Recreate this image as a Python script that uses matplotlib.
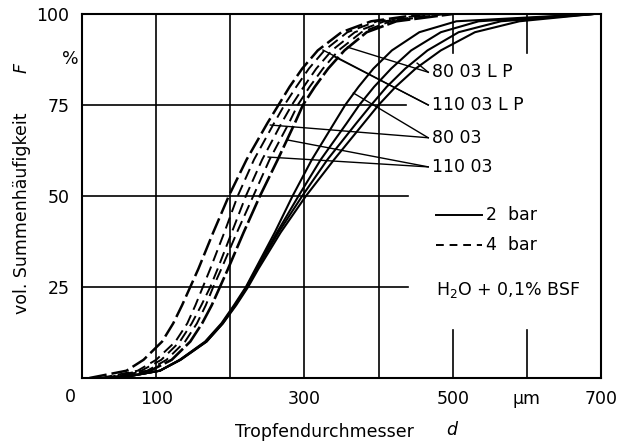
import matplotlib.pyplot as plt

F = [0, 2, 5, 10, 15, 20, 25, 30, 40, 50, 60, 70, 75, 80, 85, 90, 95, 98, 100]

# 4 bar (gestrichelt), linke Kurvenschar
d_4bar_a = [10, 60, 83, 108, 123, 135, 146, 157, 177, 198, 222, 250, 265, 280, 297, 318, 350, 390, 460]
d_4bar_b = [25, 75, 100, 126, 142, 153, 163, 173, 192, 210, 232, 259, 273, 289, 306, 327, 358, 398, 470]
d_4bar_c = [30, 80, 107, 132, 148, 161, 173, 183, 202, 221, 243, 269, 283, 299, 316, 337, 368, 408, 480]
d_4bar_d = [35, 88, 114, 139, 155, 167, 177, 188, 209, 231, 253, 279, 291, 307, 325, 346, 377, 416, 490]
d_4bar_e = [40, 92, 121, 146, 162, 175, 186, 197, 218, 240, 264, 287, 298, 314, 332, 354, 384, 424, 500]

# 2 bar (durchgezogen), rechte Kurvenschar
d_2bar_a = [50, 105, 132, 166, 188, 205, 221, 234, 260, 284, 310, 340, 355, 373, 393, 418, 455, 505, 690]
d_2bar_b = [50, 105, 132, 167, 189, 206, 222, 235, 263, 292, 322, 357, 374, 394, 417, 444, 484, 535, 690]
d_2bar_c = [50, 105, 133, 168, 190, 207, 223, 236, 265, 297, 331, 370, 390, 411, 436, 466, 508, 565, 690]
d_2bar_d = [50, 105, 133, 168, 190, 208, 224, 238, 268, 302, 340, 380, 400, 423, 450, 484, 530, 590, 690]

# Beschriftungen mit Hinweislinien (Text-Position, Zielpunkte)
labels = ['80 03 L P', '110 03 L P', '80 03', '110 03']
label_y = [84, 75, 66, 58]
leader_targets = [[(358, 90.9), (452, 86.5)],
                  [(325, 90.1), (341, 88.2)],
                  [(254, 69.5), (366, 78.3)],
                  [(277, 65.4), (251, 60.7)]]

x_ticks = [100, 300, 500, 600, 700]
x_ticklabels = ['100', '300', '500', 'µm', '700']
y_ticks = [25, 50, 75, 100]

fig = plt.figure(figsize=(6.31, 4.47), dpi=100)
ax = fig.add_axes([82 / 631, 1 - 378 / 447, 519 / 631, 364 / 447])
ax.set_xlim(0, 700)
ax.set_ylim(0, 100)

# Gitter (teilweise unterbrochen wie im Original)
for v in [100, 200, 300, 400]:
    ax.plot([v, v], [0, 100], color='black', lw=1.2)
for v in [500, 600]:
    ax.plot([v, v], [89.3, 100], color='black', lw=1.2)
    ax.plot([v, v], [0, 13.2], color='black', lw=1.2)
for h, end in [(25, 440), (50, 440), (75, 437)]:
    ax.plot([0, end], [h, h], color='black', lw=1.2)

# Kurven
for d, lw, dash in [(d_4bar_a, 1.8, (7, 2)), (d_4bar_b, 1.4, (6, 3)),
                    (d_4bar_c, 1.4, (6, 3)), (d_4bar_d, 1.4, (6, 3)),
                    (d_4bar_e, 1.9, (9, 1.5))]:
    ax.plot(d, F, color='black', lw=lw, linestyle=(0, dash))
for d in [d_2bar_a, d_2bar_b, d_2bar_c, d_2bar_d]:
    ax.plot(d, F, color='black', lw=1.5)

# Hinweislinien und Beschriftungen
for text, y, targets in zip(labels, label_y, leader_targets):
    for tx, ty in targets:
        ax.plot([467, tx], [y, ty], color='black', lw=1.0)
    ax.text(472, y, text, fontsize=12.5, va='center', ha='left')

# Legende
ax.plot([477, 540], [44.8, 44.8], color='black', lw=1.4)
ax.text(545, 44.8, '2  bar', fontsize=12.5, va='center')
ax.plot([477, 540], [36.5, 36.5], color='black', lw=1.4, linestyle=(0, (4, 3)))
ax.text(545, 36.5, '4  bar', fontsize=12.5, va='center')
ax.text(477, 24.2, 'H$_2$O + 0,1% BSF', fontsize=12.5, va='center')

# Achsen
for s in ax.spines.values():
    s.set_linewidth(1.5)
ax.set_xticks(x_ticks)
ax.set_xticklabels(x_ticklabels, fontsize=12.5)
ax.set_yticks(y_ticks)
ax.set_yticklabels([str(t) for t in y_ticks], fontsize=12.5)
ax.tick_params(length=0, pad=9)
ax.text(-16, -5.2, '0', fontsize=12.5, ha='center', va='center', clip_on=False)
ax.text(-16, 87.5, '%', fontsize=12.5, ha='center', va='center', clip_on=False)

fig.text(22 / 631, 1 - 213 / 447, 'vol. Summenhäufigkeit', rotation=90,
         fontsize=12.5, ha='center', va='center')
fig.text(22 / 631, 1 - 68 / 447, 'F', rotation=90, fontsize=12.5, style='italic',
         ha='center', va='center')
fig.text(324 / 631, 1 - 432 / 447, 'Tropfendurchmesser', fontsize=12.5,
         ha='center', va='center')
fig.text(452 / 631, 1 - 430 / 447, 'd', fontsize=12.5, style='italic',
         ha='center', va='center')

fig.savefig('out.png', dpi=100)
